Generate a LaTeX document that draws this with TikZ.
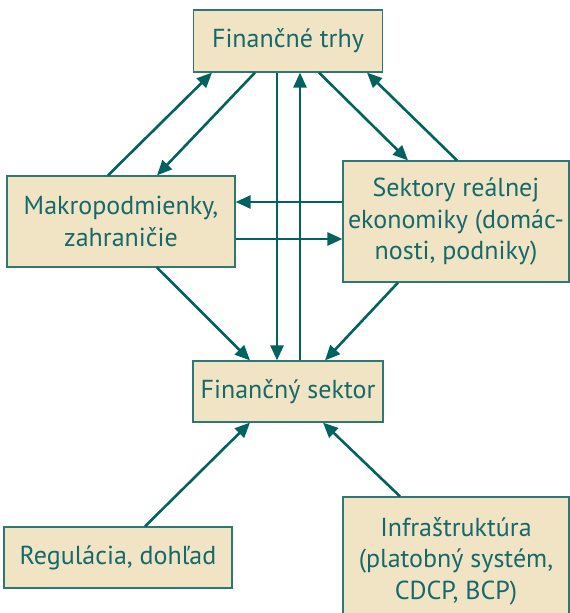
\documentclass[tikz,border=0pt]{standalone}
\usepackage{fontspec}
\setmainfont{PT Sans}
\usetikzlibrary{arrows.meta}
\definecolor{boxfill}{HTML}{F1E4C4}
\definecolor{boxline}{HTML}{2F7775}
\definecolor{txt}{HTML}{16696A}
\definecolor{arr}{HTML}{02625F}
\tikzset{
  box/.style={draw=boxline, line width=1.2pt, fill=boxfill, text=txt, align=center,
    inner sep=0pt, font=\fontsize{26}{31.5}\selectfont},
  link/.style={draw=arr, line width=2.6pt, -{Triangle[length=15pt,width=13pt]}, shorten >=0pt}
}
\begin{document}
\begin{tikzpicture}[x=1pt,y=-1pt]
\useasboundingbox (0,0) rectangle (570,613);
\clip (0,0) rectangle (570,613);
\node[box, minimum width=189pt, minimum height=62pt] (ft) at (288,41) {Finančné trhy};
\node[box, minimum width=228pt, minimum height=91pt] (mk) at (121,221.5) {Makropodmienky,\\zahraničie};
\node[box, minimum width=226pt, minimum height=121pt] (sk) at (456,221.5) {Sektory reálnej\\ekonomiky (domác-\\nosti, podniky)};
\node[box, minimum width=190pt, minimum height=61pt] (fs) at (288,391.5) {Finančný sektor};
\node[box, minimum width=228pt, minimum height=61pt] (rg) at (118,557.5) {Regulácia, dohľad};
\node[box, minimum width=226pt, minimum height=128pt] (in) at (456,561) {Infraštruktúra\\(platobný systém,\\CDCP, BCP)};

\draw[link] ([xshift=-13pt]mk.north) -- ([xshift=-76pt]ft.south);
\draw[link] ([xshift=-33pt]ft.south) -- ([xshift=36pt]mk.north);
\draw[link] ([xshift=-11pt]ft.south) -- ([xshift=-11pt]fs.north);
\draw[link] ([xshift=12pt]fs.north) -- ([xshift=12pt]ft.south);
\draw[link] ([xshift=31pt]ft.south) -- ([xshift=-48pt]sk.north);
\draw[link] ([xshift=1pt]sk.north) -- ([xshift=79pt]ft.south);
\draw[link] ([yshift=19.5pt]sk.west) -- ([yshift=19.5pt]mk.east);
\draw[link] ([yshift=-17.5pt]mk.east) -- ([yshift=-17.5pt]sk.west);
\draw[link] ([xshift=36pt]mk.south) -- ([xshift=-38pt]fs.north);
\draw[link] ([xshift=-58pt]sk.south) -- ([xshift=37pt]fs.north);
\draw[link] ([xshift=27pt]rg.north) -- ([xshift=-38pt]fs.south);
\draw[link] ([xshift=-56pt]in.north) -- ([xshift=35pt]fs.south);
\end{tikzpicture}
\end{document}
